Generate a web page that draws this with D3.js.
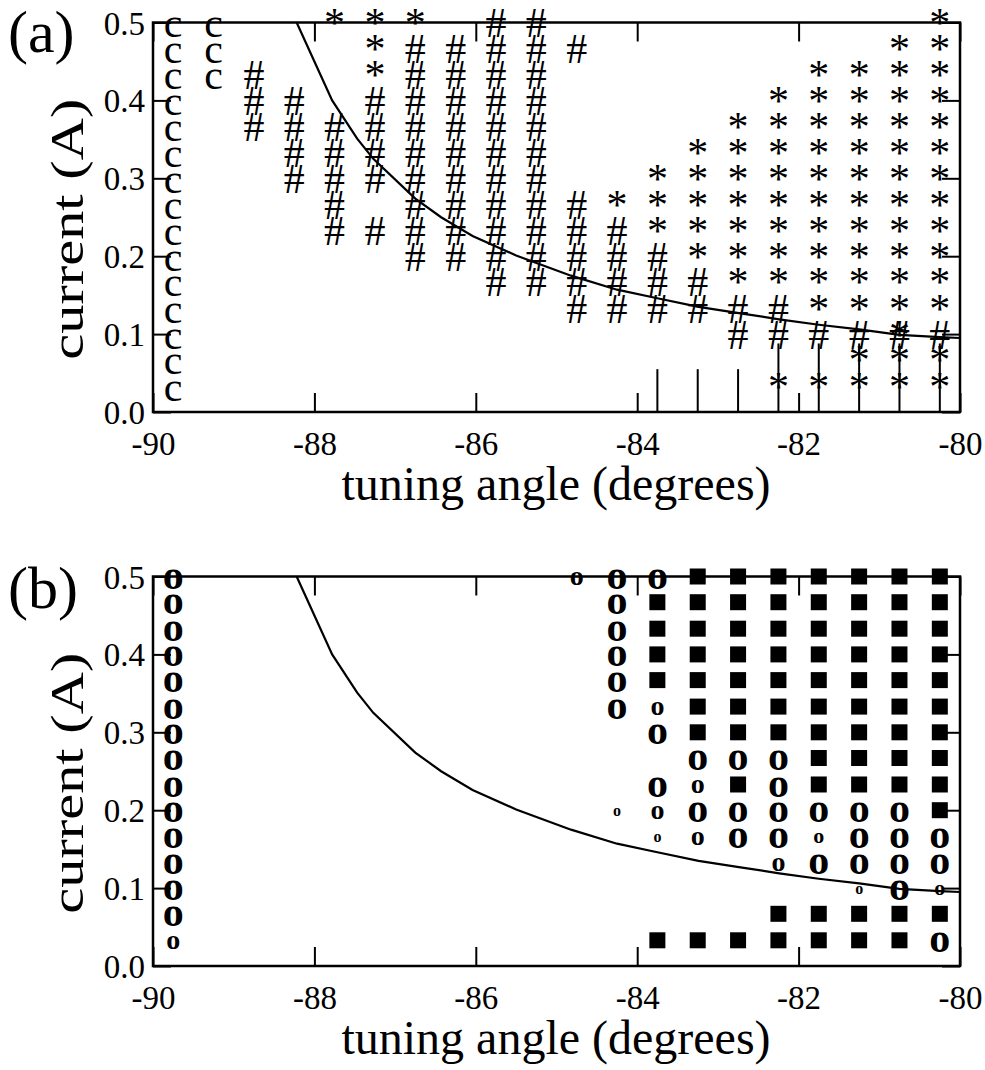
<!DOCTYPE html>
<html><head><meta charset="utf-8">
<script src="https://cdn.jsdelivr.net/npm/d3@7"></script>
<style>body{margin:0;background:#fff}</style>
</head><body>
<svg id="chart" width="985" height="1070"></svg>
<script>
// ---- data ----
const angles = [-89.75,-89.25,-88.75,-88.25,-87.75,-87.25,-86.75,-86.25,-85.75,-85.25,
                -84.75,-84.25,-83.75,-83.25,-82.75,-82.25,-81.75,-81.25,-80.75,-80.25];
// row currents, top row first (matches grid strings)
const currents = [0.500,0.467,0.433,0.400,0.367,0.333,0.300,0.267,0.233,0.200,0.167,0.133,0.100,0.067,0.033];
const xTicks = [-90,-88,-86,-84,-82,-80];
const yTicks = [0.0,0.1,0.2,0.3,0.4,0.5];

// panel (a): c, #, * ; '&' = both * and #
const gridA = [
  "cc..***.##.........*",
  "cc...*#####.......**",
  "cc#..*####......****",
  "c.##.#####.....*****",
  "c.########....******",
  "c..#######...*******",
  "c..#######..********",
  "c...#.#####*********",
  "c...########********",
  "c.....#######*******",
  "c.......######******",
  "c.........######****",
  "c.............####&#",
  "c................***",
  "c..............*****"
];
const barAngles = [-83.75,-83.25,-82.75,-82.25,-81.75,-81.25,-80.75,-80.25];
const barTops   = [0.055,0.055,0.055,0.088,0.088,0.088,0.088,0.088];

// panel (b): L/M/S/T = bold "o" large/medium/small/tiny, Q = filled square
const gridB = [
  "L.........MLLQQQQQQQ",
  "L..........LQQQQQQQQ",
  "L..........LQQQQQQQQ",
  "L..........LQQQQQQQQ",
  "L..........LQQQQQQQQ",
  "L..........LMQQQQQQQ",
  "L...........LQQQQQQQ",
  "L............LLLQQQQ",
  "L...........LMQLQQQQ",
  "L..........TMLLLLLLQ",
  "L...........TMLLSLLL",
  "L..............MLLLL",
  "L................TLS",
  "L..............QQQQQ",
  "M...........QQQQQQQL"
];
const oSizes = {L:42, M:28, S:22, T:16};

// threshold curve (same in both panels)
const curveAngle   = [-88.22,-88.00,-87.78,-87.47,-87.27,-86.75,-86.43,-86.04,-85.50,-84.82,
                      -84.25,-83.75,-83.24,-82.74,-82.24,-81.75,-81.25,-80.75,-80.25,-80.00];
const curveCurrent = [0.500,0.450,0.400,0.351,0.325,0.274,0.250,0.226,0.201,0.175,
                      0.157,0.146,0.135,0.127,0.119,0.112,0.106,0.099,0.096,0.095];

// ---- drawing ----
const FONT = '"Liberation Serif"';
const svg = d3.select("#chart");
const x = d3.scaleLinear().domain([-90,-80]).range([153,960]);
const panels = [
  {id:"a", top:22.5, bottom:412, label:"(a)", labelY:52},
  {id:"b", top:576.5, bottom:966, label:"(b)", labelY:608}
];

panels.forEach(p => {
  const y = d3.scaleLinear().domain([0,0.5]).range([p.bottom, p.top]);
  const g = svg.append("g");

  // symbols
  if (p.id === "a") {
    const sg = g.append("g");
    gridA.forEach((row, r) => {
      [...row].forEach((ch, c) => {
        if (ch === ".") return;
        const chars = ch === "&" ? ["*","#"] : [ch];
        chars.forEach(t => {
          sg.append("text").attr("x", x(angles[c])).attr("y", y(currents[r]) + 14.5)
            .attr("text-anchor","middle").attr("font-size", 42)
            .style("font-family", FONT).text(t);
        });
      });
    });
    g.append("g").selectAll("line").data(barAngles).join("line")
      .attr("x1", d => x(d)).attr("x2", d => x(d))
      .attr("y1", y(0)).attr("y2", (d,i) => y(barTops[i]))
      .attr("stroke","#000").attr("stroke-width",2);
  } else {
    const sg = g.append("g");
    gridB.forEach((row, r) => {
      [...row].forEach((ch, c) => {
        if (ch === ".") return;
        const cx = x(angles[c]), cy = y(currents[r]);
        if (ch === "Q") {
          sg.append("rect").attr("x", cx-8).attr("y", cy-8).attr("width",16).attr("height",16).attr("fill","#000");
        } else {
          const s = oSizes[ch];
          sg.append("text").attr("x", cx).attr("y", cy + 2 + 0.24*s)
            .attr("text-anchor","middle").attr("font-size", s).attr("font-weight","bold")
            .style("font-family", FONT).text("o");
        }
      });
    });
  }

  // curve
  const line = d3.line().x(d => x(d[0])).y(d => y(d[1]));
  g.append("path").datum(curveAngle.map((a,i) => [a, curveCurrent[i]]))
    .attr("d", line).attr("fill","none").attr("stroke","#000").attr("stroke-width",2.2);

  // axes
  const styleAxis = sel => {
    sel.attr("font-family", null);
    sel.select(".domain").remove();
    sel.selectAll(".tick line").attr("stroke","#000").attr("stroke-width",2);
    sel.selectAll("text").attr("font-size", 33).attr("fill","#000").style("font-family", FONT);
  };
  const xb = g.append("g").attr("transform", `translate(0,${p.bottom})`)
    .call(d3.axisBottom(x).tickValues(xTicks).tickSize(-19).tickSizeOuter(0).tickFormat(d => String(d)));
  styleAxis(xb);
  xb.selectAll("text").attr("y", 43).attr("dy", 0);

  const xt = g.append("g").attr("transform", `translate(0,${p.top})`)
    .call(d3.axisTop(x).tickValues(xTicks).tickSize(-19).tickSizeOuter(0).tickFormat(""));
  styleAxis(xt);

  const yl = g.append("g").attr("transform", `translate(153,0)`)
    .call(d3.axisLeft(y).tickValues(yTicks).tickSize(-18).tickSizeOuter(0).tickFormat(d3.format(".1f")));
  styleAxis(yl);
  yl.selectAll("text").attr("x", -8).attr("dy", "0.35em");

  const yr = g.append("g").attr("transform", `translate(960,0)`)
    .call(d3.axisRight(y).tickValues(yTicks).tickSize(-18).tickSizeOuter(0).tickFormat(""));
  styleAxis(yr);

  // frame
  g.append("rect").attr("x",153).attr("y",p.top).attr("width",807).attr("height",p.bottom-p.top)
    .attr("fill","none").attr("stroke","#000").attr("stroke-width",2.5);

  // titles
  g.append("text").attr("x", 556).attr("y", p.bottom + 88)
    .attr("text-anchor","middle").attr("font-size", 48).style("font-family", FONT)
    .text("tuning angle (degrees)");
  const cy = (p.top + p.bottom)/2 + 12;
  g.append("text").attr("transform", `translate(83,${cy}) rotate(-90) scale(1.27,1)`)
    .attr("text-anchor","middle").attr("font-size", 46).style("font-family", FONT)
    .text("current (A)");
  g.append("text").attr("x", 8).attr("y", p.labelY)
    .attr("font-size", 60).style("font-family", FONT).text(p.label);
});
</script>
</body></html>
